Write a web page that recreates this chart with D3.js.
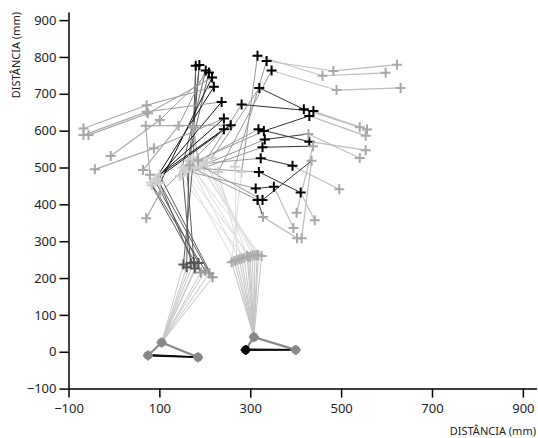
<!DOCTYPE html>
<html>
<head>
<meta charset="utf-8">
<script src="https://d3js.org/d3.v7.min.js"></script>
<style>
  body { margin: 0; background: #fff; }
  text { font-family: "Noto Sans", "Open Sans", sans-serif; }
</style>
</head>
<body>
<script>
// foot: heel, toe, ankle
var footL = [[75, -10], [185, -15], [105, 25]];
var footR = [[290, 5], [400, 5], [308, 40]];

// left stance frames
var kneeL     = [[153,237],[160,229],[169,241],[176,243],[178,226],[186,241],[191,215],[201,220],[210,213],[217,202]];
var hipL      = [[175,525],[165,520],[150,500],[160,505],[101,457],[90,465],[83,452],[81,459],[95,470],[100,480]];
var shoulderL = [[180,776],[188,778],[202,763],[209,758],[216,744],[220,719],[237,678],[242,633],[257,615],[242,604]];
var elbowL    = [[175,610],[176,608],[142,613],[101,629],[75,647],[72,669],[72,651],[88,552],[70,613],[101,430]];
var wristL    = [[185,520],[167,506],[64,493],[-7,531],[-56,588],[-67,606],[-67,588],[-42,495],[79,480],[71,362]];

// right stance frames
var kneeR     = [[259,243],[270,249],[281,253],[293,260],[305,262],[315,262],[325,260],[300,258],[287,255],[310,261],[296,257],[265,246],[276,251],[318,262]];
var hipR      = [[281,488],[266,502],[229,488],[215,525],[200,515],[186,520],[167,506],[160,488],[145,477],[205,512],[176,498],[155,492],[170,500],[190,505]];
var shoulderR = [[316,803],[336,789],[347,763],[320,716],[281,671],[330,599],[318,604],[332,576],[327,555],[323,525],[319,488],[312,443],[316,412],[327,412]];
var elbowR    = [[459,749],[483,762],[490,710],[418,658],[439,653],[430,640],[430,570],[428,591],[438,558],[393,505],[411,432],[352,448],[328,366],[435,518]];
var wristR    = [[598,757],[623,779],[631,716],[541,609],[557,603],[554,586],[554,547],[541,526],[402,377],[496,441],[442,357],[395,336],[403,308],[413,308]];
var elbowToneR = ['light','light','light','dark','dark','dark','dark','light','light','dark','dark','dark','light','light'];

var xTicks = [-100, 100, 300, 500, 700, 900];
var yTicks = [-100, 0, 100, 200, 300, 400, 500, 600, 700, 800, 900];
var axisTitle = 'DISTÂNCIA (mm)';

var width = 538, height = 438;
var svg = d3.select('body').append('svg')
  .attr('width', width)
  .attr('height', height);

var x = d3.scaleLinear().domain([-100, 930]).range([68.5, 536.5]);
var y = d3.scaleLinear().domain([-100, 922]).range([388.6, 12]);

var tone = d3.scaleOrdinal().domain(['dark', 'light']).range(['#000', '#a8a8a8']);

var g = svg.append('g');

function seg(a, b, color, w) {
  g.append('line')
    .attr('x1', x(a[0])).attr('y1', y(a[1]))
    .attr('x2', x(b[0])).attr('y2', y(b[1]))
    .attr('stroke', color)
    .attr('stroke-width', w || 1);
}

function cross(p, color, sw) {
  var cx = x(p[0]), cy = y(p[1]), r = 5;
  g.append('path')
    .attr('d', 'M' + (cx - r) + ',' + cy + 'H' + (cx + r) + 'M' + cx + ',' + (cy - r) + 'V' + (cy + r))
    .attr('stroke', color)
    .attr('stroke-width', sw || 2)
    .attr('fill', 'none');
}

function dot(p, color) {
  g.append('circle')
    .attr('cx', x(p[0])).attr('cy', y(p[1]))
    .attr('r', 4.5)
    .attr('fill', color);
  cross(p, color, 2);
}

// lines: right stance (lighter, drawn first)
kneeR.forEach(function(k, i) {
  seg(footR[2], k, '#c4c4c4');
  seg(k, hipR[i], '#dcdcdc');
  seg(hipR[i], shoulderR[i], '#999');
  seg(shoulderR[i], elbowR[i], i < 3 ? '#c0c0c0' : '#333');
  seg(elbowR[i], wristR[i], '#bdbdbd', 1.2);
});

// lines: left stance
kneeL.forEach(function(k, i) {
  seg(footL[2], k, '#c8c8c8');
  seg(k, hipL[i], '#5a5a5a');
  seg(hipL[i], shoulderL[i], i < 4 ? '#666' : '#111');
  seg(shoulderL[i], elbowL[i], i < 2 ? '#555' : '#999');
  seg(elbowL[i], wristL[i], '#ababab', 1.2);
});

// feet
[footL, footR].forEach(function(f) {
  [-1.5, 0.5, 2.5].forEach(function(d) {
    seg([f[0][0], f[0][1] + d], [f[1][0], f[1][1] + d / 2], '#000', 1);
  });
  seg(f[2], f[1], '#888', 2.2);
  seg(f[2], f[0], '#888', 2.2);
});

// markers
hipR.forEach(function(p) { cross(p, '#cfcfcf'); });
hipL.forEach(function(p) { cross(p, '#cfcfcf'); });
kneeR.forEach(function(p) { cross(p, '#ababab'); });
kneeL.forEach(function(p, i) { cross(p, i < 6 ? '#555' : '#999'); });
wristR.forEach(function(p) { cross(p, '#a8a8a8'); });
wristL.forEach(function(p) { cross(p, '#a8a8a8'); });
elbowL.forEach(function(p) { cross(p, '#a8a8a8'); });
elbowR.forEach(function(p, i) { cross(p, tone(elbowToneR[i])); });
shoulderR.forEach(function(p) { cross(p, '#000'); });
shoulderL.forEach(function(p) { cross(p, '#000'); });

dot(footL[0], '#888'); dot(footL[1], '#888'); dot(footL[2], '#888');
dot(footR[1], '#888'); dot(footR[2], '#888'); dot(footR[0], '#000');

// axes
var xAxis = svg.append('g')
  .attr('transform', 'translate(0,' + y(-100) + ')')
  .call(d3.axisBottom(x).tickValues(xTicks).tickSize(9).tickSizeOuter(0));
var yAxis = svg.append('g')
  .attr('transform', 'translate(' + x(-100) + ',0)')
  .call(d3.axisLeft(y).tickValues(yTicks).tickSize(9).tickSizeOuter(0));

[xAxis, yAxis].forEach(function(a) {
  a.select('.domain').attr('stroke', '#000').attr('stroke-width', 1.5);
  a.selectAll('.tick line').attr('stroke', '#000').attr('stroke-width', 1.5);
  a.selectAll('.tick text').attr('font-size', 13).attr('fill', '#222')
    .attr('font-family', '"Noto Sans", sans-serif');
});
xAxis.selectAll('.tick text').attr('dy', '0.95em');

svg.append('text')
  .attr('x', width - 2)
  .attr('y', 435)
  .attr('text-anchor', 'end')
  .attr('font-size', 11)
  .attr('fill', '#222')
  .text(axisTitle);

svg.append('text')
  .attr('transform', 'translate(20,12) rotate(-90)')
  .attr('text-anchor', 'end')
  .attr('font-size', 11)
  .attr('fill', '#222')
  .text(axisTitle);
</script>
</body>
</html>
